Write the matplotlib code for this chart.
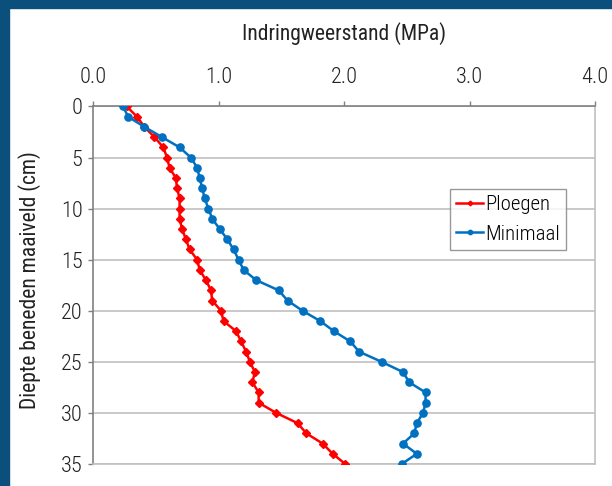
import matplotlib
matplotlib.use("Agg")
import matplotlib.pyplot as plt
from matplotlib.patches import Rectangle

plt.rcParams['font.family'] = ['Roboto Condensed', 'Archivo Narrow', 'DejaVu Sans']
plt.rcParams['font.weight'] = 'light'

depth = list(range(0, 36))
ploegen = [0.27, 0.35, 0.41, 0.49, 0.56, 0.59, 0.61, 0.66, 0.67, 0.69,
           0.69, 0.69, 0.71, 0.74, 0.77, 0.83, 0.85, 0.90, 0.94, 0.95,
           1.02, 1.04, 1.14, 1.18, 1.22, 1.25, 1.29, 1.27, 1.32, 1.32,
           1.46, 1.63, 1.70, 1.83, 1.91, 2.01]
minimaal = [0.24, 0.28, 0.41, 0.55, 0.69, 0.78, 0.83, 0.85, 0.87, 0.89,
            0.92, 0.95, 1.01, 1.07, 1.12, 1.16, 1.20, 1.30, 1.48, 1.55,
            1.67, 1.81, 1.92, 2.05, 2.12, 2.30, 2.47, 2.52, 2.65, 2.65,
            2.63, 2.58, 2.56, 2.47, 2.58, 2.46]
xticks = [0, 1, 2, 3, 4]
xticklabels = ["0.0", "1.0", "2.0", "3.0", "4.0"]
yticks = [0, 5, 10, 15, 20, 25, 30, 35]

fig = plt.figure(figsize=(6.12, 4.86), dpi=100)
fig.patches.append(Rectangle((0, 1 - 8/486), 1, 8/486, transform=fig.transFigure,
                             color='#0b4f7d', zorder=0))
fig.patches.append(Rectangle((0, 0), 9/612, 1, transform=fig.transFigure,
                             color='#0b4f7d', zorder=0))

ax = fig.add_axes([93/612, 1 - 464/486, (595 - 93)/612, (464 - 106.5)/486])
ax.plot(ploegen, depth, color='#ff0000', lw=1.8, marker='D', ms=4,
        label='Ploegen', zorder=3)
ax.plot(minimaal, depth, color='#0070c0', lw=1.8, marker='o', ms=5.2,
        label='Minimaal', zorder=3)

ax.set_xlim(0, 4)
ax.set_ylim(35, 0)
ax.xaxis.tick_top()
ax.xaxis.set_label_position('top')
ax.set_xticks(xticks)
ax.set_xticklabels(xticklabels)
ax.set_yticks(yticks)
ax.tick_params(axis='both', labelsize=16, length=3.6, width=1, color='#808080',
               colors='#222222', pad=4)
ax.tick_params(axis='x', pad=10)
ax.set_xlabel('Indringweerstand (MPa)', fontsize=15.5, labelpad=19, color='#222222')
ax.set_ylabel('Diepte beneden maaiveld (cm)', fontsize=15.5, color='#222222')
ax.yaxis.set_label_coords(-0.104, 0.515)

ax.grid(axis='y', color='#c0c0c0', lw=1.2)
ax.set_axisbelow(True)
ax.spines['left'].set_color('#808080')
ax.spines['top'].set_color('#808080')
ax.spines['right'].set_color('#c0c0c0')
ax.spines['bottom'].set_color('#c0c0c0')
for s in ax.spines.values():
    s.set_linewidth(1.2)

leg = ax.legend(loc='upper left', bbox_to_anchor=((450 - 93)/502, 1 - (189 - 106.5)/357.5),
                fontsize=15, frameon=True, fancybox=False, edgecolor='#808080',
                handlelength=1.3, handletextpad=0.1, borderpad=0.3,
                labelspacing=0.5, borderaxespad=0, markerscale=0.6)
leg.get_frame().set_linewidth(1.0)

fig.savefig('out.png', dpi=100)
